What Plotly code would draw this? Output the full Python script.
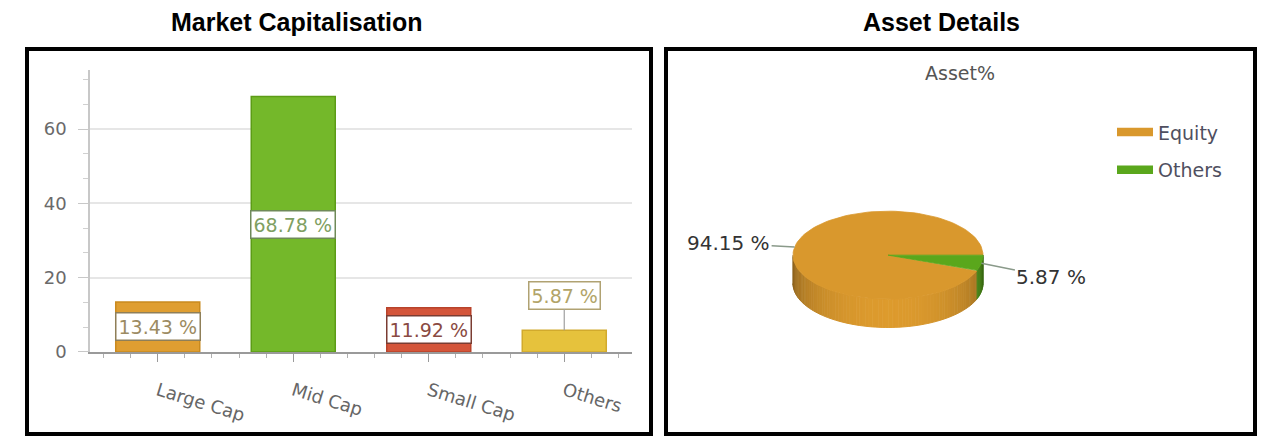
import numpy as np
import plotly.graph_objects as go

# ---- data ----
cap_categories = ["Large Cap", "Mid Cap", "Small Cap", "Others"]
cap_values = [13.43, 68.78, 11.92, 5.87]
cap_labels = ["13.43 %", "68.78 %", "11.92 %", "5.87 %"]

asset_names = ["Equity", "Others"]
asset_values = [94.15, 5.87]
asset_labels = ["94.15 %", "5.87 %"]

y_ticks = [0, 20, 40, 60]

# ---- styling ----
W, H = 1270, 446
bar_fill = ["#df9e31", "#74b82a", "#d4553a", "#e6c23c"]
bar_edge = ["#c98a1f", "#5c9c16", "#b8432b", "#d2aa2c"]
label_text = ["#9c8b62", "#7f9f62", "#8a4a42", "#b2a468"]
label_border = ["#8f7f58", "#6f8a58", "#7a3c32", "#b0a272"]
slice_top = ["#d9982d", "#5aa71c"]
TEXT_FONT = "DejaVu Sans"


def px_x(p):
    return p / W


def px_y(p):
    return 1 - p / H


fig = go.Figure()

# ---- bar chart ----
xpos = list(range(len(cap_categories)))
fig.add_trace(go.Bar(
    x=xpos, y=cap_values, width=0.62,
    marker=dict(color=bar_fill, line=dict(color=bar_edge, width=1.5)),
    showlegend=False, hoverinfo="skip", xaxis="x", yaxis="y",
))

annotations = []
for i, (v, lab) in enumerate(zip(cap_values, cap_labels)):
    small = v < 10
    annotations.append(dict(
        x=i, y=v if small else v / 2, xref="x", yref="y",
        text=lab, showarrow=small, ax=0, ay=-35, arrowhead=0,
        arrowwidth=1.2, arrowcolor="#a0a0a0",
        font=dict(family=TEXT_FONT, size=19, color=label_text[i]),
        bgcolor="white", bordercolor=label_border[i], borderwidth=1.5,
        borderpad=2,
    ))

# ---- 3D-style pie drawn on its own axes ----
cx_px, cy_px, unit = 888, 261, 95.0
ry = 45 / unit
depth = 29 / unit

fracs = np.array(asset_values) / np.sum(asset_values)
bounds = np.concatenate([[0.0], np.cumsum(fracs)]) * 2 * np.pi

# side walls (front half only), shaded by angle
for k in range(len(asset_values)):
    a0, a1 = bounds[k], bounds[k + 1]
    lo, hi = max(a0, np.pi), min(a1, 2 * np.pi)
    if hi <= lo:
        continue
    nseg = max(2, int(90 * (hi - lo) / np.pi))
    edges = np.linspace(lo, hi, nseg + 1)
    base = np.array([int(slice_top[k][j:j + 2], 16) for j in (1, 3, 5)])
    for s in range(nseg):
        t = np.linspace(edges[s], edges[s + 1], 4)
        tm = 0.5 * (edges[s] + edges[s + 1])
        f = 0.60 + 0.42 * (-np.sin(tm)) ** 0.8
        c = np.clip(base * f, 0, 255).astype(int)
        col = "rgb(%d,%d,%d)" % tuple(c)
        xs = np.concatenate([np.cos(t), np.cos(t[::-1])])
        ys = np.concatenate([ry * np.sin(t), ry * np.sin(t[::-1]) - depth])
        fig.add_trace(go.Scatter(
            x=xs, y=ys, fill="toself", fillcolor=col, mode="lines",
            line=dict(color=col, width=1), showlegend=False,
            legendgroup=asset_names[k], hoverinfo="skip",
            xaxis="x2", yaxis="y2",
        ))

# top faces
for k, name in enumerate(asset_names):
    t = np.linspace(bounds[k], bounds[k + 1], 120)
    xs = np.concatenate([[0], np.cos(t), [0]])
    ys = np.concatenate([[0], ry * np.sin(t), [0]])
    fig.add_trace(go.Scatter(
        x=xs, y=ys, fill="toself", fillcolor=slice_top[k], mode="lines",
        line=dict(color=slice_top[k], width=0.8), name=name,
        legendgroup=name, hoverinfo="skip", xaxis="x2", yaxis="y2",
    ))

# slice value labels with leader lines
label_offsets = [(-66, -4), (70, 14)]
for k, lab in enumerate(asset_labels):
    m = 0.5 * (bounds[k] + bounds[k + 1])
    ox, oy = label_offsets[k]
    annotations.append(dict(
        x=np.cos(m), y=ry * np.sin(m), xref="x2", yref="y2",
        text=lab, showarrow=True, ax=ox, ay=oy, arrowhead=0,
        arrowwidth=1.5, arrowcolor="#8a9a8a",
        font=dict(family=TEXT_FONT, size=20, color="#333333"),
    ))

# panel headings
annotations += [
    dict(x=px_x(296), y=px_y(23), xref="paper", yref="paper",
         xanchor="center", yanchor="middle",
         text="<b>Market Capitalisation</b>", showarrow=False,
         font=dict(family="Liberation Sans, Arial", size=25, color="black")),
    dict(x=px_x(942), y=px_y(23), xref="paper", yref="paper",
         xanchor="center", yanchor="middle",
         text="<b>Asset Details</b>", showarrow=False,
         font=dict(family="Liberation Sans, Arial", size=25, color="black")),
    dict(x=px_x(960), y=px_y(75), xref="paper", yref="paper",
         xanchor="center", yanchor="middle",
         text="Asset%", showarrow=False,
         font=dict(family=TEXT_FONT, size=19, color="#555555")),
]

# panel frames
shapes = [
    dict(type="rect", xref="paper", yref="paper",
         x0=px_x(27), x1=px_x(651), y0=px_y(444), y1=px_y(50),
         line=dict(color="black", width=4)),
    dict(type="rect", xref="paper", yref="paper",
         x0=px_x(666), x1=px_x(1255), y0=px_y(444), y1=px_y(50),
         line=dict(color="black", width=4)),
]

x2_range = [(666 - cx_px) / unit, (1255 - cx_px) / unit]
y2_range = [-(444 - cy_px) / unit, (cy_px - 50) / unit]

fig.update_layout(
    width=W, height=H, margin=dict(l=0, r=0, t=0, b=0),
    paper_bgcolor="white", plot_bgcolor="rgba(0,0,0,0)",
    annotations=annotations, shapes=shapes,
    xaxis=dict(
        domain=[px_x(90), px_x(632)], range=[-0.5, 3.5],
        tickvals=xpos, ticktext=cap_categories, tickangle=17,
        tickfont=dict(family=TEXT_FONT, size=18, color="#666666"),
        ticklabelstandoff=12,
        showline=True, linecolor="#9a9a9a", linewidth=1.5,
        ticks="outside", ticklen=8, tickcolor="#9a9a9a",
        minor=dict(dtick=0.2, ticks="outside", ticklen=4, tickcolor="#b0b0b0"),
        showgrid=False, zeroline=False, anchor="y",
    ),
    yaxis=dict(
        domain=[px_y(360), px_y(72)], range=[0, 75.8],
        tickvals=y_ticks,
        tickfont=dict(family=TEXT_FONT, size=18, color="#6a6a6a"),
        showline=True, linecolor="#c8c8c8", linewidth=1.5,
        ticks="outside", ticklen=10, tickcolor="#c8c8c8",
        ticklabelstandoff=8,
        minor=dict(dtick=20 / 3, ticks="outside", ticklen=5, tickcolor="#d0d0d0"),
        showgrid=True, gridcolor="#e6e6e6", gridwidth=2, zeroline=False,
        anchor="x",
    ),
    xaxis2=dict(domain=[px_x(666), px_x(1255)], range=x2_range,
                visible=False, anchor="y2"),
    yaxis2=dict(domain=[px_y(444), px_y(50)], range=y2_range,
                visible=False, anchor="x2"),
    legend=dict(x=px_x(1112), y=px_y(116), xanchor="left", yanchor="top",
                font=dict(family=TEXT_FONT, size=19, color="#4f4f60"),
                bgcolor="rgba(0,0,0,0)", itemsizing="constant",
                itemwidth=36, tracegroupgap=10),
)

fig.write_html("out.html")
